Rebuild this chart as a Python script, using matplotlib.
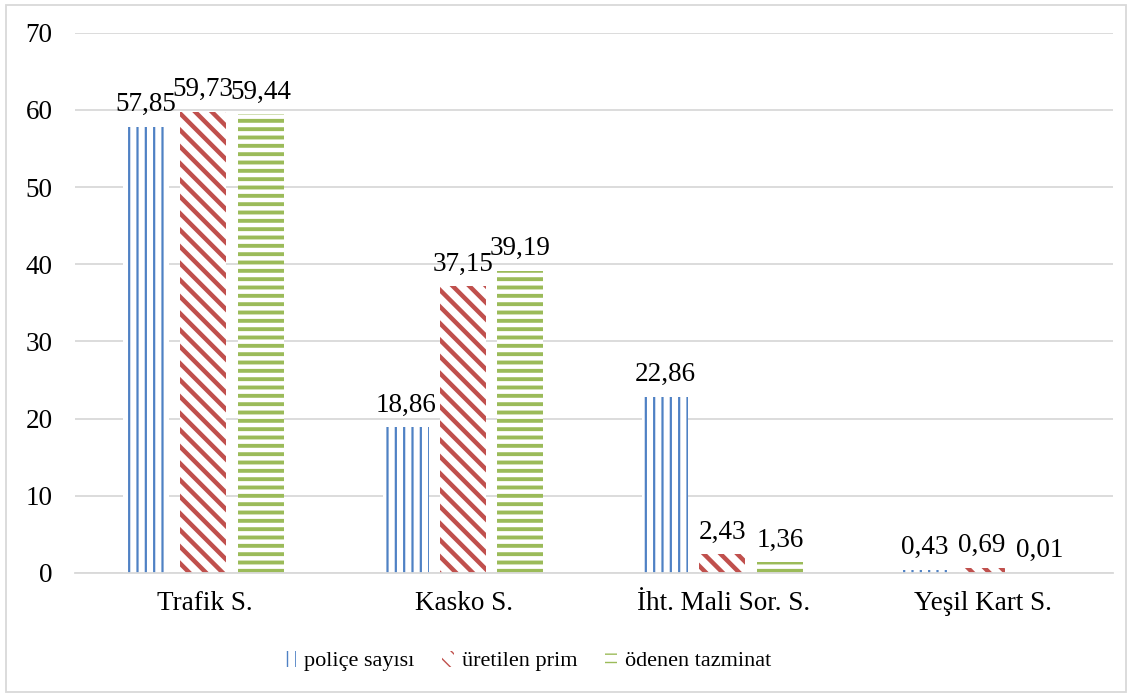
import numpy as np
import matplotlib.pyplot as plt
from matplotlib.patches import Rectangle

plt.rcParams['font.family'] = ['Liberation Serif', 'DejaVu Serif']

categories = ["Trafik S.", "Kasko S.", "İht. Mali Sor. S.", "Yeşil Kart S."]
police_sayisi = [57.85, 18.86, 22.86, 0.43]
uretilen_prim = [59.73, 37.15, 2.43, 0.69]
odenen_tazminat = [59.44, 39.19, 1.36, 0.01]

series = [
    ("poliçe sayısı", police_sayisi, '#4F81C4', '||', 1.6),
    ("üretilen prim", uretilen_prim, '#C0504D', '\\\\', 3.2),
    ("ödenen tazminat", odenen_tazminat, '#9BBB59', '--', 2.8),
]

fig = plt.figure(figsize=(11.32, 6.97), dpi=100)
ax = fig.add_axes([0.066, 0.178, 0.917, 0.775])

x = np.arange(len(categories))
width = 0.177
offsets = [-0.225, -0.005, 0.217]

handles = []
for (name, vals, color, hatch, hlw), off in zip(series, offsets):
    with plt.rc_context({'hatch.linewidth': hlw}):
        bars = ax.bar(x + off, vals, width, facecolor='white', edgecolor=color,
                      linewidth=0, hatch=hatch, label=name, zorder=2)
    for b in bars:
        if hasattr(b, 'set_hatch_linewidth'):
            b.set_hatch_linewidth(hlw)
    handles.append(bars)
    for xi, v in zip(x + off, vals):
        ax.annotate(f"{v:.2f}".replace('.', ','), (xi, v), xytext=(0, 7),
                    textcoords='offset points', ha='center', va='bottom',
                    fontsize=19.5, zorder=3)

ax.set_xlim(-0.5, len(categories) - 0.5)
ax.set_ylim(0, 70)
ax.set_yticks(range(0, 71, 10))
ax.set_xticks(x)
ax.set_xticklabels(categories)
ax.tick_params(axis='both', length=0, labelsize=19.5)
ax.tick_params(axis='y', pad=16)
ax.tick_params(axis='x', pad=13)
ax.yaxis.grid(True, color='#D9D9D9', linewidth=1.3, zorder=0)
ax.set_axisbelow(True)
for side in ['top', 'right', 'left']:
    ax.spines[side].set_visible(False)
ax.spines['bottom'].set_color('#D9D9D9')
ax.spines['bottom'].set_linewidth(1.3)

leg = fig.legend(handles=handles, loc='lower center', bbox_to_anchor=(0.466, 0.008),
                 ncol=3, frameon=False, fontsize=16, handlelength=0.55,
                 handleheight=0.75, handletextpad=0.35, columnspacing=1.25)

# light frame around the whole chart
fig.patches.append(Rectangle((0.005, 0.007), 0.99, 0.986, transform=fig.transFigure,
                             fill=False, edgecolor='#D9D9D9', linewidth=1.3))

fig.savefig('out.png', dpi=100)
